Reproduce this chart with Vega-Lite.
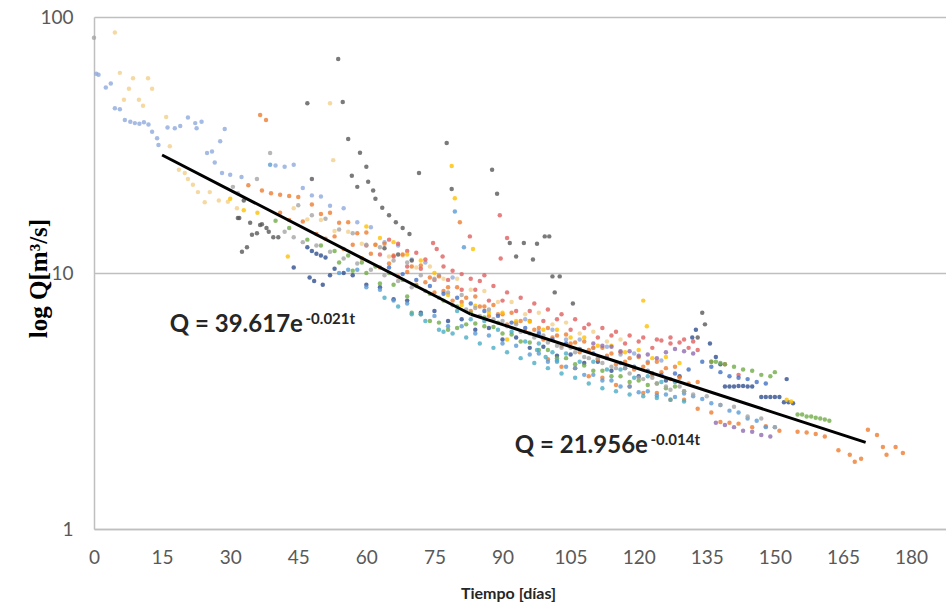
{
  "$schema": "https://vega.github.io/schema/vega-lite/v6.json",
  "width": 852,
  "height": 512,
  "autosize": {"type": "none"},
  "padding": {"left": 94, "top": 17, "right": 0, "bottom": 78},
  "background": "white",
  "config": {"view": {"stroke": null}, "font": "Lato"},
  "datasets": {
    "pts": [
      {"t":0.5,"q":60,"s":"lav"},{"t":1,"q":59.5,"s":"lav"},{"t":2.6,"q":53,"s":"lav"},{"t":3.7,"q":55,"s":"lav"},{"t":4.6,"q":44,"s":"lav"},{"t":5.7,"q":43.6,"s":"lav"},{"t":6.8,"q":39.6,"s":"lav"},{"t":8,"q":39,"s":"lav"},{"t":9,"q":38.5,"s":"lav"},{"t":10,"q":38.3,"s":"lav"},{"t":11,"q":38.8,"s":"lav"},{"t":12,"q":38,"s":"lav"},{"t":12.8,"q":35.6,"s":"lav"},{"t":13.9,"q":33.6,"s":"lav"},{"t":14.2,"q":31.6,"s":"lav"},{"t":16.2,"q":37,"s":"lav"},{"t":17.8,"q":36.8,"s":"lav"},{"t":19,"q":37.5,"s":"lav"},{"t":20.7,"q":40.5,"s":"lav"},{"t":22.3,"q":38.5,"s":"lav"},{"t":23.7,"q":39,"s":"lav"},{"t":22.6,"q":36.8,"s":"lav"},{"t":28.8,"q":36.5,"s":"lav"},{"t":27.8,"q":32.7,"s":"lav"},{"t":24.9,"q":29.4,"s":"lav"},{"t":26,"q":29.8,"s":"lav"},{"t":26.6,"q":27,"s":"lav"},{"t":28.2,"q":24.6,"s":"lav"},{"t":30,"q":24.2,"s":"lav"},{"t":32.5,"q":23.7,"s":"lav"},{"t":40,"q":26.3,"s":"lav"},{"t":42,"q":26,"s":"lav"},{"t":44,"q":26.5,"s":"lav"},{"t":46,"q":21.5,"s":"lav"},{"t":48,"q":20.1,"s":"lav"},{"t":50,"q":19.9,"s":"lav"},{"t":52,"q":18.3,"s":"lav"},{"t":55,"q":17.9,"s":"lav"},{"t":58,"q":15.8,"s":"lav"},{"t":61,"q":15.1,"s":"lav"},{"t":64,"q":13.2,"s":"lav"},{"t":67,"q":12.8,"s":"lav"},{"t":70,"q":11.3,"s":"lav"},{"t":73,"q":11.0,"s":"lav"},{"t":76,"q":9.8,"s":"lav"},{"t":79,"q":9.6,"s":"lav"},{"t":95,"q":6.6,"s":"lav"},{"t":98,"q":5.9,"s":"lav"},{"t":101,"q":6.0,"s":"lav"},{"t":104,"q":5.5,"s":"lav"},{"t":107,"q":5.5,"s":"lav"},{"t":110,"q":5.1,"s":"lav"},{"t":113,"q":5.15,"s":"lav"},{"t":116,"q":4.8,"s":"lav"},{"t":119,"q":4.85,"s":"lav"},{"t":122,"q":4.5,"s":"lav"},{"t":125,"q":4.55,"s":"lav"},
      {"t":4.6,"q":87,"s":"beige"},{"t":5.7,"q":60.5,"s":"beige"},{"t":8.6,"q":57.6,"s":"beige"},{"t":11.9,"q":57.6,"s":"beige"},{"t":7.7,"q":52.4,"s":"beige"},{"t":12.8,"q":52.4,"s":"beige"},{"t":6.6,"q":47.5,"s":"beige"},{"t":9.9,"q":47.5,"s":"beige"},{"t":10.8,"q":45,"s":"beige"},{"t":15.9,"q":40.7,"s":"beige"},{"t":16.7,"q":31.3,"s":"beige"},{"t":18.7,"q":25.3,"s":"beige"},{"t":20,"q":24.6,"s":"beige"},{"t":20.7,"q":23.3,"s":"beige"},{"t":21.8,"q":22.1,"s":"beige"},{"t":22.9,"q":20.7,"s":"beige"},{"t":24.4,"q":18.9,"s":"beige"},{"t":25.5,"q":20.7,"s":"beige"},{"t":52,"q":46,"s":"beige"},{"t":52.7,"q":27.6,"s":"beige"},{"t":27.5,"q":19.2,"s":"beige"},{"t":29.5,"q":19.0,"s":"beige"},{"t":31.5,"q":17.9,"s":"beige"},{"t":44,"q":17.9,"s":"beige"},{"t":47,"q":16.2,"s":"beige"},{"t":50,"q":16.1,"s":"beige"},{"t":53,"q":14.6,"s":"beige"},{"t":56,"q":14.5,"s":"beige"},{"t":59,"q":13.0,"s":"beige"},{"t":62,"q":12.9,"s":"beige"},{"t":65,"q":11.6,"s":"beige"},{"t":68,"q":11.7,"s":"beige"},{"t":71,"q":10.5,"s":"beige"},{"t":74,"q":10.6,"s":"beige"},{"t":77,"q":9.5,"s":"beige"},{"t":80,"q":9.5,"s":"beige"},{"t":83,"q":8.6,"s":"beige"},{"t":86,"q":8.5,"s":"beige"},{"t":89,"q":7.7,"s":"beige"},{"t":92,"q":7.7,"s":"beige"},{"t":95,"q":6.9,"s":"beige"},{"t":98,"q":7.0,"s":"beige"},{"t":101,"q":6.3,"s":"beige"},{"t":104,"q":6.4,"s":"beige"},{"t":107,"q":5.8,"s":"beige"},{"t":110,"q":5.9,"s":"beige"},{"t":113,"q":5.4,"s":"beige"},{"t":116,"q":5.5,"s":"beige"},
      {"t":47,"q":46,"s":"dgray"},{"t":53.8,"q":68.5,"s":"dgray"},{"t":54.8,"q":46.6,"s":"dgray"},{"t":56,"q":33.4,"s":"dgray"},{"t":58.6,"q":29.5,"s":"dgray"},{"t":60,"q":26,"s":"dgray"},{"t":60.4,"q":22.7,"s":"dgray"},{"t":61.5,"q":21,"s":"dgray"},{"t":58,"q":21.7,"s":"dgray"},{"t":48,"q":23.3,"s":"dgray"},{"t":56.8,"q":24,"s":"dgray"},{"t":71.6,"q":24.6,"s":"dgray"},{"t":77.7,"q":32.2,"s":"dgray"},{"t":78.8,"q":21.3,"s":"dgray"},{"t":87.7,"q":25.3,"s":"dgray"},{"t":88.8,"q":20.4,"s":"dgray"},{"t":91.6,"q":13.1,"s":"dgray"},{"t":93,"q":11.6,"s":"dgray"},{"t":94.7,"q":13.1,"s":"dgray"},{"t":97.6,"q":13,"s":"dgray"},{"t":99.3,"q":13.9,"s":"dgray"},{"t":100.3,"q":13.9,"s":"dgray"},{"t":96.7,"q":11.3,"s":"dgray"},{"t":101,"q":9.7,"s":"dgray"},{"t":102.6,"q":9.7,"s":"dgray"},{"t":101.5,"q":8.4,"s":"dgray"},{"t":105.5,"q":7.6,"s":"dgray"},{"t":32,"q":16.4,"s":"dgray"},{"t":34.8,"q":14.1,"s":"dgray"},{"t":33.7,"q":12.6,"s":"dgray"},{"t":32.6,"q":12.1,"s":"dgray"},{"t":33,"q":19.2,"s":"dgray"},{"t":31.7,"q":16.4,"s":"dgray"},{"t":34.4,"q":15.7,"s":"dgray"},{"t":35.9,"q":14.3,"s":"dgray"},{"t":37,"q":15.5,"s":"dgray"},{"t":38.5,"q":14.5,"s":"dgray"},{"t":39.5,"q":13.8,"s":"dgray"},{"t":36.6,"q":15.4,"s":"dgray"},{"t":38,"q":15,"s":"dgray"},{"t":40.6,"q":13.8,"s":"dgray"},{"t":62,"q":19.5,"s":"dgray"},{"t":63.5,"q":18,"s":"dgray"},{"t":65,"q":16.8,"s":"dgray"},{"t":66.5,"q":15.8,"s":"dgray"},{"t":68,"q":15,"s":"dgray"},{"t":69.5,"q":14.2,"s":"dgray"},{"t":64,"q":12.5,"s":"dgray"},{"t":67,"q":11.8,"s":"dgray"},{"t":70,"q":11.2,"s":"dgray"},{"t":134,"q":7.0,"s":"dgray"},{"t":134.6,"q":6.3,"s":"dgray"},{"t":133,"q":5.6,"s":"dgray"},
      {"t":44,"q":10.5,"s":"dblue"},{"t":47,"q":12.6,"s":"dblue"},{"t":48,"q":12.2,"s":"dblue"},{"t":49,"q":11.9,"s":"dblue"},{"t":50,"q":11.7,"s":"dblue"},{"t":51,"q":11.5,"s":"dblue"},{"t":47.5,"q":9.6,"s":"dblue"},{"t":48.5,"q":9.3,"s":"dblue"},{"t":50.4,"q":9.0,"s":"dblue"},{"t":52,"q":9.8,"s":"dblue"},{"t":53,"q":10.4,"s":"dblue"},{"t":55,"q":10.0,"s":"dblue"},{"t":57,"q":9.8,"s":"dblue"},{"t":60,"q":9.0,"s":"dblue"},{"t":63,"q":8.8,"s":"dblue"},{"t":66,"q":7.9,"s":"dblue"},{"t":69,"q":7.8,"s":"dblue"},{"t":72,"q":7.0,"s":"dblue"},{"t":75,"q":7.1,"s":"dblue"},{"t":78,"q":6.5,"s":"dblue"},{"t":81,"q":6.6,"s":"dblue"},{"t":84,"q":6.0,"s":"dblue"},{"t":87,"q":6.1,"s":"dblue"},{"t":90,"q":5.5,"s":"dblue"},{"t":93,"q":5.6,"s":"dblue"},{"t":96,"q":5.1,"s":"dblue"},{"t":99,"q":5.15,"s":"dblue"},{"t":102,"q":4.75,"s":"dblue"},{"t":105,"q":4.8,"s":"dblue"},{"t":108,"q":4.45,"s":"dblue"},{"t":111,"q":4.5,"s":"dblue"},{"t":114,"q":4.15,"s":"dblue"},{"t":117,"q":4.25,"s":"dblue"},{"t":120,"q":3.95,"s":"dblue"},{"t":123,"q":4.05,"s":"dblue"},{"t":126,"q":3.8,"s":"dblue"},{"t":129,"q":3.95,"s":"dblue"},{"t":132.6,"q":6.0,"s":"dblue"},{"t":131.8,"q":5.6,"s":"dblue"},{"t":135.7,"q":5.3,"s":"dblue"},{"t":137,"q":4.7,"s":"dblue"},{"t":138,"q":4.4,"s":"dblue"},{"t":139,"q":3.6,"s":"dblue"},{"t":140,"q":3.6,"s":"dblue"},{"t":141,"q":3.6,"s":"dblue"},{"t":142,"q":3.62,"s":"dblue"},{"t":143,"q":3.62,"s":"dblue"},{"t":144,"q":3.6,"s":"dblue"},{"t":145,"q":3.6,"s":"dblue"},{"t":147,"q":3.28,"s":"dblue"},{"t":148,"q":3.28,"s":"dblue"},{"t":149,"q":3.28,"s":"dblue"},{"t":150,"q":3.28,"s":"dblue"},{"t":151,"q":3.28,"s":"dblue"},{"t":152.6,"q":3.85,"s":"dblue"},{"t":152,"q":3.13,"s":"dblue"},{"t":153,"q":3.13,"s":"dblue"},{"t":154,"q":3.1,"s":"dblue"},
      {"t":36.6,"q":41.4,"s":"orange"},{"t":37.9,"q":39.6,"s":"orange"},{"t":39,"q":20.5,"s":"orange"},{"t":41,"q":20.2,"s":"orange"},{"t":43,"q":20,"s":"orange"},{"t":45,"q":19.8,"s":"orange"},{"t":80.6,"q":15.8,"s":"orange"},{"t":34,"q":22,"s":"orange"},{"t":37,"q":21,"s":"orange"},{"t":48,"q":18.5,"s":"orange"},{"t":50,"q":17.0,"s":"orange"},{"t":52,"q":17.2,"s":"orange"},{"t":54,"q":15.7,"s":"orange"},{"t":56,"q":15.8,"s":"orange"},{"t":58,"q":14.3,"s":"orange"},{"t":60,"q":14.4,"s":"orange"},{"t":62,"q":12.9,"s":"orange"},{"t":64,"q":13.0,"s":"orange"},{"t":66,"q":11.7,"s":"orange"},{"t":68,"q":11.8,"s":"orange"},{"t":70,"q":10.6,"s":"orange"},{"t":72,"q":10.7,"s":"orange"},{"t":74,"q":9.6,"s":"orange"},{"t":76,"q":9.7,"s":"orange"},{"t":78,"q":8.8,"s":"orange"},{"t":80,"q":8.8,"s":"orange"},{"t":82,"q":8.0,"s":"orange"},{"t":84,"q":8.1,"s":"orange"},{"t":86,"q":7.4,"s":"orange"},{"t":88,"q":7.5,"s":"orange"},{"t":90,"q":6.9,"s":"orange"},{"t":92,"q":7.0,"s":"orange"},{"t":94,"q":6.5,"s":"orange"},{"t":96,"q":6.5,"s":"orange"},{"t":98,"q":6.1,"s":"orange"},{"t":100,"q":6.1,"s":"orange"},{"t":102,"q":5.7,"s":"orange"},{"t":104,"q":5.75,"s":"orange"},{"t":106,"q":5.35,"s":"orange"},{"t":108,"q":5.4,"s":"orange"},{"t":110,"q":5.1,"s":"orange"},{"t":112,"q":5.1,"s":"orange"},{"t":114,"q":4.85,"s":"orange"},{"t":116,"q":4.9,"s":"orange"},{"t":118,"q":4.65,"s":"orange"},{"t":120,"q":4.7,"s":"orange"},{"t":122,"q":4.45,"s":"orange"},{"t":124,"q":4.5,"s":"orange"},{"t":126,"q":4.25,"s":"orange"},{"t":128,"q":4.3,"s":"orange"},
      {"t":100,"q":4.6,"s":"orange"},{"t":103,"q":4.3,"s":"orange"},{"t":106,"q":4.25,"s":"orange"},{"t":109,"q":3.95,"s":"orange"},{"t":112,"q":3.9,"s":"orange"},{"t":115,"q":3.65,"s":"orange"},{"t":118,"q":3.6,"s":"orange"},{"t":121,"q":3.4,"s":"orange"},{"t":124,"q":3.4,"s":"orange"},{"t":127,"q":3.2,"s":"orange"},{"t":130,"q":3.2,"s":"orange"},{"t":133,"q":2.95,"s":"orange"},{"t":136,"q":2.85,"s":"orange"},{"t":138,"q":2.62,"s":"orange"},{"t":140,"q":2.6,"s":"orange"},{"t":142,"q":2.58,"s":"orange"},{"t":145,"q":2.5,"s":"orange"},{"t":148,"q":2.52,"s":"orange"},{"t":151,"q":2.42,"s":"orange"},{"t":155,"q":2.4,"s":"orange"},{"t":157,"q":2.38,"s":"orange"},{"t":159,"q":2.35,"s":"orange"},{"t":161,"q":2.3,"s":"orange"},{"t":164,"q":2.03,"s":"orange"},{"t":166.5,"q":1.95,"s":"orange"},{"t":167.6,"q":1.83,"s":"orange"},{"t":170.5,"q":2.44,"s":"orange"},{"t":172.5,"q":2.33,"s":"orange"},{"t":173.8,"q":2.09,"s":"orange"},{"t":174.6,"q":1.95,"s":"orange"},{"t":176.6,"q":2.09,"s":"orange"},{"t":178.2,"q":1.98,"s":"orange"},{"t":169,"q":1.88,"s":"orange"},
      {"t":41,"q":17.2,"s":"orange"},{"t":43,"q":16.1,"s":"orange"},{"t":46,"q":15.9,"s":"orange"},{"t":49,"q":14.2,"s":"orange"},{"t":51,"q":13.6,"s":"orange"},{"t":53,"q":13.9,"s":"orange"},{"t":55,"q":12.4,"s":"orange"},{"t":57,"q":12.9,"s":"orange"},{"t":59,"q":11.4,"s":"orange"},{"t":61,"q":11.9,"s":"orange"},{"t":63,"q":10.5,"s":"orange"},{"t":65,"q":10.9,"s":"orange"},{"t":67,"q":9.7,"s":"orange"},{"t":69,"q":10.1,"s":"orange"},{"t":71,"q":9.0,"s":"orange"},{"t":73,"q":9.2,"s":"orange"},{"t":75,"q":8.4,"s":"orange"},{"t":77,"q":8.5,"s":"orange"},{"t":79,"q":7.8,"s":"orange"},{"t":81,"q":7.7,"s":"orange"},{"t":83,"q":7.1,"s":"orange"},{"t":85,"q":7.4,"s":"orange"},{"t":87,"q":6.8,"s":"orange"},{"t":89,"q":6.9,"s":"orange"},{"t":91,"q":6.3,"s":"orange"},{"t":93,"q":6.4,"s":"orange"},{"t":95,"q":5.9,"s":"orange"},{"t":97,"q":6.0,"s":"orange"},{"t":99,"q":5.5,"s":"orange"},{"t":101,"q":5.6,"s":"orange"},{"t":103,"q":5.2,"s":"orange"},{"t":105,"q":5.3,"s":"orange"},{"t":107,"q":4.9,"s":"orange"},{"t":109,"q":5.0,"s":"orange"},{"t":111,"q":4.6,"s":"orange"},{"t":113,"q":4.75,"s":"orange"},{"t":115,"q":4.4,"s":"orange"},{"t":117,"q":4.5,"s":"orange"},{"t":119,"q":4.2,"s":"orange"},{"t":121,"q":4.3,"s":"orange"},{"t":123,"q":4.0,"s":"orange"},{"t":125,"q":4.1,"s":"orange"},{"t":127,"q":3.85,"s":"orange"},{"t":129,"q":3.9,"s":"orange"},{"t":131,"q":3.7,"s":"orange"},{"t":133,"q":3.75,"s":"orange"},
      {"t":89.4,"q":16.8,"s":"red"},{"t":91,"q":13.7,"s":"red"},{"t":74.7,"q":13.1,"s":"red"},{"t":75.5,"q":12.4,"s":"red"},{"t":76.8,"q":11.6,"s":"red"},{"t":82.8,"q":13.9,"s":"red"},{"t":89.6,"q":11.4,"s":"red"},{"t":60,"q":12.8,"s":"red"},{"t":63,"q":11.8,"s":"red"},{"t":66,"q":11.6,"s":"red"},{"t":69,"q":10.6,"s":"red"},{"t":72,"q":10.4,"s":"red"},{"t":75,"q":9.4,"s":"red"},{"t":78,"q":9.4,"s":"red"},{"t":81,"q":8.6,"s":"red"},{"t":84,"q":8.6,"s":"red"},{"t":87,"q":7.8,"s":"red"},{"t":90,"q":7.8,"s":"red"},{"t":93,"q":7.1,"s":"red"},{"t":96,"q":7.1,"s":"red"},{"t":99,"q":6.5,"s":"red"},{"t":102,"q":6.6,"s":"red"},{"t":105,"q":6.0,"s":"red"},{"t":108,"q":6.1,"s":"red"},{"t":111,"q":5.6,"s":"red"},{"t":114,"q":5.7,"s":"red"},{"t":117,"q":5.3,"s":"red"},{"t":120,"q":5.4,"s":"red"},{"t":123,"q":5.1,"s":"red"},{"t":125,"q":5.45,"s":"red"},{"t":127,"q":5.3,"s":"red"},{"t":129,"q":5.35,"s":"red"},{"t":131,"q":5.1,"s":"red"},{"t":133,"q":5.0,"s":"red"},{"t":136,"q":4.5,"s":"red"},{"t":139,"q":4.4,"s":"red"},{"t":142,"q":4.0,"s":"red"},
      {"t":65,"q":13.5,"s":"red"},{"t":67,"q":13.0,"s":"red"},{"t":69,"q":12.2,"s":"red"},{"t":71,"q":12.0,"s":"red"},{"t":73,"q":11.3,"s":"red"},{"t":77,"q":10.6,"s":"red"},{"t":79,"q":10.2,"s":"red"},{"t":81,"q":9.9,"s":"red"},{"t":83,"q":9.5,"s":"red"},{"t":85,"q":9.3,"s":"red"},{"t":86,"q":9.8,"s":"red"},{"t":88,"q":8.9,"s":"red"},{"t":91,"q":8.4,"s":"red"},{"t":94,"q":8.0,"s":"red"},{"t":97,"q":7.6,"s":"red"},{"t":100,"q":7.2,"s":"red"},{"t":103,"q":6.9,"s":"red"},{"t":106,"q":6.6,"s":"red"},{"t":109,"q":6.3,"s":"red"},{"t":112,"q":6.1,"s":"red"},{"t":115,"q":5.9,"s":"red"},{"t":118,"q":5.7,"s":"red"},{"t":121,"q":5.6,"s":"red"},{"t":124,"q":5.5,"s":"red"},{"t":127,"q":5.6,"s":"red"},{"t":130,"q":5.5,"s":"red"},{"t":132,"q":5.4,"s":"red"},
      {"t":54,"q":11,"s":"green"},{"t":57,"q":10.2,"s":"green"},{"t":60,"q":10.0,"s":"green"},{"t":63,"q":9.1,"s":"green"},{"t":66,"q":9.0,"s":"green"},{"t":69,"q":8.1,"s":"green"},{"t":70,"q":7.0,"s":"green"},{"t":72,"q":6.9,"s":"green"},{"t":74,"q":6.5,"s":"green"},{"t":76,"q":6.4,"s":"green"},{"t":78,"q":6.0,"s":"green"},{"t":80,"q":6.1,"s":"green"},{"t":82,"q":6.3,"s":"green"},{"t":84,"q":6.35,"s":"green"},{"t":86,"q":6.2,"s":"green"},{"t":88,"q":6.15,"s":"green"},{"t":90,"q":5.8,"s":"green"},{"t":92,"q":5.75,"s":"green"},{"t":94,"q":5.4,"s":"green"},{"t":96,"q":5.35,"s":"green"},{"t":98,"q":5.0,"s":"green"},{"t":100,"q":5.0,"s":"green"},{"t":102,"q":4.65,"s":"green"},{"t":104,"q":4.65,"s":"green"},{"t":106,"q":4.4,"s":"green"},{"t":108,"q":4.35,"s":"green"},{"t":110,"q":4.15,"s":"green"},{"t":112,"q":4.15,"s":"green"},{"t":114,"q":3.95,"s":"green"},{"t":116,"q":3.95,"s":"green"},{"t":118,"q":3.75,"s":"green"},{"t":120,"q":3.8,"s":"green"},{"t":122,"q":3.65,"s":"green"},{"t":124,"q":3.7,"s":"green"},{"t":126,"q":3.55,"s":"green"},{"t":128,"q":3.6,"s":"green"},{"t":130,"q":3.45,"s":"green"},{"t":136,"q":4.5,"s":"green"},{"t":137,"q":4.5,"s":"green"},{"t":138,"q":4.45,"s":"green"},{"t":139,"q":4.4,"s":"green"},{"t":141,"q":4.3,"s":"green"},{"t":143,"q":4.2,"s":"green"},{"t":145,"q":4.15,"s":"green"},{"t":147,"q":4.0,"s":"green"},{"t":149,"q":3.95,"s":"green"},{"t":150,"q":4.1,"s":"green"},{"t":155,"q":2.8,"s":"green"},{"t":156,"q":2.8,"s":"green"},{"t":157,"q":2.75,"s":"green"},{"t":158,"q":2.75,"s":"green"},{"t":159,"q":2.72,"s":"green"},{"t":160,"q":2.7,"s":"green"},{"t":161,"q":2.68,"s":"green"},{"t":162,"q":2.65,"s":"green"},
      {"t":40,"q":16,"s":"green"},{"t":43,"q":15,"s":"green"},{"t":47,"q":13.5,"s":"green"},{"t":50,"q":12.8,"s":"green"},{"t":53,"q":12.2,"s":"green"},{"t":56,"q":11.7,"s":"green"},{"t":59,"q":11.0,"s":"green"},{"t":62,"q":10.6,"s":"green"},{"t":65,"q":10.0,"s":"green"},{"t":68,"q":9.4,"s":"green"},{"t":71,"q":8.9,"s":"green"},{"t":74,"q":8.3,"s":"green"},{"t":77,"q":7.8,"s":"green"},{"t":80,"q":7.4,"s":"green"},{"t":83,"q":7.0,"s":"green"},{"t":86,"q":6.7,"s":"green"},{"t":89,"q":6.4,"s":"green"},
      {"t":79.5,"q":17.4,"s":"lblue"},{"t":81.5,"q":12.6,"s":"lblue"},{"t":54,"q":10.0,"s":"lblue"},{"t":56,"q":10.3,"s":"lblue"},{"t":58,"q":10.3,"s":"lblue"},{"t":38.8,"q":26.5,"s":"lblue"},{"t":60,"q":8.8,"s":"lblue"},{"t":63,"q":8.6,"s":"lblue"},{"t":66,"q":7.8,"s":"lblue"},{"t":69,"q":7.6,"s":"lblue"},{"t":72,"q":6.9,"s":"lblue"},{"t":75,"q":6.8,"s":"lblue"},{"t":78,"q":6.2,"s":"lblue"},{"t":81,"q":6.2,"s":"lblue"},{"t":84,"q":5.8,"s":"lblue"},{"t":87,"q":5.7,"s":"lblue"},{"t":90,"q":5.3,"s":"lblue"},{"t":93,"q":5.2,"s":"lblue"},{"t":96,"q":4.8,"s":"lblue"},{"t":98,"q":4.85,"s":"lblue"},{"t":100,"q":4.5,"s":"lblue"},{"t":102,"q":4.55,"s":"lblue"},{"t":104,"q":4.3,"s":"lblue"},{"t":106,"q":4.25,"s":"lblue"},{"t":108,"q":4.0,"s":"lblue"},{"t":110,"q":4.0,"s":"lblue"},{"t":112,"q":3.8,"s":"lblue"},{"t":114,"q":3.8,"s":"lblue"},{"t":116,"q":3.6,"s":"lblue"},{"t":118,"q":3.6,"s":"lblue"},{"t":120,"q":3.42,"s":"lblue"},{"t":122,"q":3.45,"s":"lblue"},{"t":124,"q":3.32,"s":"lblue"},{"t":126,"q":3.35,"s":"lblue"},{"t":128,"q":3.28,"s":"lblue"},{"t":130,"q":3.38,"s":"lblue"},{"t":132,"q":3.3,"s":"lblue"},{"t":134,"q":3.22,"s":"lblue"},{"t":136,"q":3.1,"s":"lblue"},{"t":138,"q":3.05,"s":"lblue"},{"t":140,"q":2.9,"s":"lblue"},{"t":142,"q":2.85,"s":"lblue"},{"t":144,"q":2.7,"s":"lblue"},{"t":146,"q":2.65,"s":"lblue"},{"t":148,"q":2.5,"s":"lblue"},{"t":150,"q":2.5,"s":"lblue"},
      {"t":80,"q":7.1,"s":"teal"},{"t":83,"q":6.6,"s":"teal"},{"t":86,"q":6.5,"s":"teal"},{"t":89,"q":6.0,"s":"teal"},{"t":92,"q":5.9,"s":"teal"},{"t":95,"q":5.4,"s":"teal"},{"t":98,"q":5.3,"s":"teal"},{"t":101,"q":4.9,"s":"teal"},{"t":104,"q":4.85,"s":"teal"},{"t":107,"q":4.5,"s":"teal"},{"t":110,"q":4.5,"s":"teal"},{"t":113,"q":4.2,"s":"teal"},{"t":116,"q":4.2,"s":"teal"},{"t":119,"q":3.9,"s":"teal"},{"t":122,"q":3.95,"s":"teal"},{"t":125,"q":3.75,"s":"teal"},{"t":128,"q":3.75,"s":"teal"},{"t":97.6,"q":5.0,"s":"teal"},{"t":99.5,"q":4.7,"s":"teal"},{"t":102,"q":4.5,"s":"teal"},
      {"t":64,"q":8.0,"s":"teal"},{"t":67,"q":7.4,"s":"teal"},{"t":70,"q":6.9,"s":"teal"},{"t":73,"q":6.5,"s":"teal"},{"t":76,"q":6.0,"s":"teal"},{"t":77,"q":5.9,"s":"teal"},{"t":79,"q":5.8,"s":"teal"},{"t":82,"q":5.6,"s":"teal"},{"t":85,"q":5.3,"s":"teal"},{"t":88,"q":5.1,"s":"teal"},{"t":91,"q":4.9,"s":"teal"},{"t":94,"q":4.65,"s":"teal"},{"t":97,"q":4.45,"s":"teal"},{"t":100,"q":4.25,"s":"teal"},{"t":103,"q":4.05,"s":"teal"},{"t":106,"q":3.9,"s":"teal"},{"t":109,"q":3.7,"s":"teal"},{"t":112,"q":3.55,"s":"teal"},{"t":115,"q":3.45,"s":"teal"},{"t":118,"q":3.35,"s":"teal"},{"t":121,"q":3.3,"s":"teal"},{"t":124,"q":3.25,"s":"teal"},{"t":127,"q":3.2,"s":"teal"},{"t":130,"q":3.15,"s":"teal"},
      {"t":78.8,"q":26.2,"s":"gold"},{"t":79.5,"q":19.6,"s":"gold"},{"t":83.5,"q":12.4,"s":"gold"},{"t":91,"q":5.5,"s":"gold"},{"t":121,"q":7.8,"s":"gold"},{"t":121.8,"q":6.2,"s":"gold"},{"t":152.6,"q":3.2,"s":"gold"},{"t":153.6,"q":3.15,"s":"gold"},{"t":42.7,"q":11.6,"s":"gold"},{"t":30,"q":19.5,"s":"gold"},{"t":33,"q":17.6,"s":"gold"},{"t":36,"q":17.2,"s":"gold"},{"t":60,"q":15.2,"s":"gold"},{"t":63,"q":13.7,"s":"gold"},{"t":66,"q":13.2,"s":"gold"},{"t":69,"q":11.8,"s":"gold"},{"t":72,"q":11.2,"s":"gold"},{"t":75,"q":10.0,"s":"gold"},{"t":78,"q":8.2,"s":"gold"},{"t":81,"q":7.5,"s":"gold"},{"t":84,"q":7.45,"s":"gold"},{"t":87,"q":7.0,"s":"gold"},{"t":90,"q":7.0,"s":"gold"},{"t":93,"q":6.5,"s":"gold"},{"t":96,"q":6.45,"s":"gold"},{"t":99,"q":6.0,"s":"gold"},{"t":102,"q":6.0,"s":"gold"},{"t":105,"q":5.6,"s":"gold"},{"t":108,"q":5.6,"s":"gold"},{"t":111,"q":5.2,"s":"gold"},{"t":114,"q":5.2,"s":"gold"},{"t":117,"q":4.9,"s":"gold"},{"t":120,"q":5.0,"s":"gold"},{"t":123,"q":4.65,"s":"gold"},{"t":126,"q":4.7,"s":"gold"},{"t":129,"q":4.45,"s":"gold"},
      {"t":0,"q":83,"s":"lgray"},{"t":30.6,"q":21.7,"s":"lgray"},{"t":31.7,"q":20.5,"s":"lgray"},{"t":35.9,"q":23.3,"s":"lgray"},{"t":38.8,"q":29.4,"s":"lgray"},{"t":45,"q":18.4,"s":"lgray"},{"t":48,"q":16.8,"s":"lgray"},{"t":51,"q":16.3,"s":"lgray"},{"t":54,"q":14.8,"s":"lgray"},{"t":57,"q":14.3,"s":"lgray"},{"t":60,"q":12.9,"s":"lgray"},{"t":63,"q":12.6,"s":"lgray"},{"t":66,"q":11.2,"s":"lgray"},{"t":69,"q":11.0,"s":"lgray"},{"t":72,"q":9.8,"s":"lgray"},{"t":75,"q":9.5,"s":"lgray"},{"t":78,"q":8.4,"s":"lgray"},{"t":81,"q":8.2,"s":"lgray"},{"t":84,"q":7.3,"s":"lgray"},{"t":87,"q":7.2,"s":"lgray"},{"t":90,"q":6.5,"s":"lgray"},{"t":93,"q":6.3,"s":"lgray"},{"t":96,"q":5.8,"s":"lgray"},{"t":99,"q":5.7,"s":"lgray"},{"t":102,"q":5.2,"s":"lgray"},{"t":105,"q":5.1,"s":"lgray"},{"t":108,"q":4.7,"s":"lgray"},{"t":111,"q":4.65,"s":"lgray"},{"t":114,"q":4.3,"s":"lgray"},{"t":117,"q":4.25,"s":"lgray"},{"t":120,"q":3.9,"s":"lgray"},{"t":123,"q":3.9,"s":"lgray"},{"t":126,"q":3.6,"s":"lgray"},{"t":129,"q":3.6,"s":"lgray"},{"t":132,"q":3.35,"s":"lgray"},{"t":135,"q":3.3,"s":"lgray"},{"t":138,"q":3.05,"s":"lgray"},{"t":141,"q":3.0,"s":"lgray"},{"t":144,"q":2.75,"s":"lgray"},{"t":147,"q":2.7,"s":"lgray"},{"t":150,"q":2.5,"s":"lgray"},
      {"t":42,"q":14.5,"s":"lgray"},{"t":44,"q":13.8,"s":"lgray"},{"t":46,"q":13.2,"s":"lgray"},{"t":49,"q":12.8,"s":"lgray"},{"t":52,"q":12.1,"s":"lgray"},{"t":55,"q":11.4,"s":"lgray"},{"t":58,"q":10.9,"s":"lgray"},{"t":61,"q":10.3,"s":"lgray"},{"t":64,"q":9.8,"s":"lgray"},{"t":67,"q":9.3,"s":"lgray"},{"t":70,"q":8.8,"s":"lgray"},{"t":73,"q":8.5,"s":"lgray"},{"t":76,"q":8.0,"s":"lgray"},{"t":79,"q":7.5,"s":"lgray"},{"t":82,"q":7.2,"s":"lgray"},{"t":85,"q":6.8,"s":"lgray"},{"t":88,"q":6.6,"s":"lgray"},{"t":91,"q":6.2,"s":"lgray"},{"t":94,"q":5.9,"s":"lgray"},{"t":97,"q":5.6,"s":"lgray"},{"t":100,"q":5.35,"s":"lgray"},{"t":103,"q":5.1,"s":"lgray"},{"t":106,"q":4.9,"s":"lgray"},{"t":109,"q":4.65,"s":"lgray"},{"t":112,"q":4.45,"s":"lgray"},{"t":115,"q":4.25,"s":"lgray"},{"t":118,"q":4.05,"s":"lgray"},{"t":121,"q":3.85,"s":"lgray"},{"t":124,"q":3.7,"s":"lgray"},{"t":127,"q":3.5,"s":"lgray"},{"t":130,"q":3.45,"s":"lgray"},
      {"t":65,"q":10.5,"s":"blue"},{"t":68,"q":9.9,"s":"blue"},{"t":71,"q":9.4,"s":"blue"},{"t":74,"q":8.9,"s":"blue"},{"t":77,"q":8.3,"s":"blue"},{"t":80,"q":8.0,"s":"blue"},{"t":83,"q":7.6,"s":"blue"},{"t":86,"q":7.1,"s":"blue"},{"t":89,"q":6.8,"s":"blue"},{"t":92,"q":6.4,"s":"blue"},{"t":95,"q":6.1,"s":"blue"},{"t":98,"q":5.8,"s":"blue"},{"t":101,"q":5.5,"s":"blue"},{"t":104,"q":5.3,"s":"blue"},{"t":107,"q":5.05,"s":"blue"},{"t":110,"q":4.85,"s":"blue"},{"t":113,"q":4.65,"s":"blue"},{"t":116,"q":4.45,"s":"blue"},{"t":119,"q":4.3,"s":"blue"},{"t":122,"q":4.15,"s":"blue"},{"t":125,"q":4.0,"s":"blue"},{"t":128,"q":4.05,"s":"blue"},{"t":131,"q":4.2,"s":"blue"},{"t":134,"q":4.5,"s":"blue"},{"t":136,"q":4.3,"s":"blue"},{"t":138,"q":4.1,"s":"blue"},{"t":140,"q":3.95,"s":"blue"},{"t":142,"q":3.9,"s":"blue"},{"t":144,"q":3.85,"s":"blue"},{"t":146,"q":3.75,"s":"blue"},{"t":148,"q":3.7,"s":"blue"},
      {"t":110,"q":5.3,"s":"purple"},{"t":112,"q":5.2,"s":"purple"},{"t":114,"q":5.15,"s":"purple"},{"t":116,"q":4.95,"s":"purple"},{"t":118,"q":4.95,"s":"purple"},{"t":120,"q":4.75,"s":"purple"},{"t":122,"q":4.8,"s":"purple"},{"t":124,"q":4.65,"s":"purple"},{"t":126,"q":4.9,"s":"purple"},{"t":128,"q":5.05,"s":"purple"},{"t":130,"q":4.95,"s":"purple"},{"t":132,"q":4.85,"s":"purple"},{"t":137,"q":2.6,"s":"purple"},{"t":139,"q":2.55,"s":"purple"},{"t":141,"q":2.5,"s":"purple"},{"t":143,"q":2.42,"s":"purple"},{"t":145,"q":2.4,"s":"purple"},{"t":147,"q":2.33,"s":"purple"},{"t":149,"q":2.3,"s":"purple"}
    ],
    "fit": [
      {"t":15,"q":28.9,"g":"a"},{"t":83,"q":6.9,"g":"a"},
      {"t":83,"q":6.9,"g":"b"},{"t":170,"q":2.18,"g":"b"}
    ],
    "ann": [
      {"t":16.7,"q":6.27,"label":"Q = 39.617e"},
      {"t":92.7,"q":2.11,"label":"Q = 21.956e"}
    ],
    "sup": [
      {"t":46.6,"q":6.6,"label":"-0.021t"},
      {"t":122.6,"q":2.22,"label":"-0.014t"}
    ]
  },
  "encoding": {
    "x": {
      "field": "t", "type": "quantitative",
      "scale": {"domain": [0, 187.7], "nice": false, "zero": false},
      "axis": {
        "values": [0,15,30,45,60,75,90,105,120,135,150,165,180],
        "title": "Tiempo [días]",
        "grid": false, "ticks": false,
        "domainColor": "#BFBFBF", "domainWidth": 1.5,
        "labelFont": "Lato", "labelFontSize": 19, "labelColor": "#595959",
        "labelPadding": 19, "labelFlush": false, "labelOverlap": false,
        "titleFont": "Lato", "titleFontSize": 16, "titleFontWeight": "bold", "titleColor": "#262626",
        "titleX": 414, "titleY": 64, "titleBaseline": "middle", "titleAlign": "center"
      }
    },
    "y": {
      "field": "q", "type": "quantitative",
      "scale": {"type": "log", "domain": [1, 100], "nice": false},
      "axis": {
        "values": [1, 10, 100], "format": "d",
        "title": "log Q[m³/s]",
        "grid": true, "gridColor": "#BFBFBF", "gridWidth": 1.5,
        "ticks": false, "domainColor": "#BFBFBF", "domainWidth": 1.5,
        "labelFont": "Lato", "labelFontSize": 19, "labelColor": "#595959",
        "labelPadding": 21, "labelOverlap": false,
        "titleFont": "Liberation Serif", "titleFontSize": 25, "titleFontWeight": "bold", "titleColor": "#000000",
        "titleAngle": -90, "titleX": -56, "titleY": 261, "titleAlign": "center", "titleBaseline": "middle"
      }
    }
  },
  "layer": [
    {
      "data": {"name": "pts"},
      "mark": {"type": "circle", "size": 20, "opacity": 0.8},
      "encoding": {
        "color": {
          "field": "s", "type": "nominal", "legend": null,
          "scale": {
            "domain": ["lav","beige","dgray","dblue","orange","red","green","lblue","teal","gold","lgray","purple","blue"],
            "range": ["#8FAADC","#F2CF8C","#595959","#2F4F8F","#ED7D31","#E06060","#70AD47","#5B9BD5","#4BACC6","#FFC000","#A5A5A5","#8E6BB0","#4472C4"]
          }
        }
      }
    },
    {
      "data": {"name": "fit"},
      "mark": {"type": "line", "color": "#000000", "strokeWidth": 3},
      "encoding": {"detail": {"field": "g", "type": "nominal"}}
    },
    {
      "data": {"name": "ann"},
      "mark": {"type": "text", "align": "left", "baseline": "middle", "font": "Lato", "fontSize": 24, "fontWeight": "bold", "color": "#262626"},
      "encoding": {"text": {"field": "label"}}
    },
    {
      "data": {"name": "sup"},
      "mark": {"type": "text", "align": "left", "baseline": "middle", "font": "Lato", "fontSize": 15, "fontWeight": "bold", "color": "#262626"},
      "encoding": {"text": {"field": "label"}}
    }
  ]
}
